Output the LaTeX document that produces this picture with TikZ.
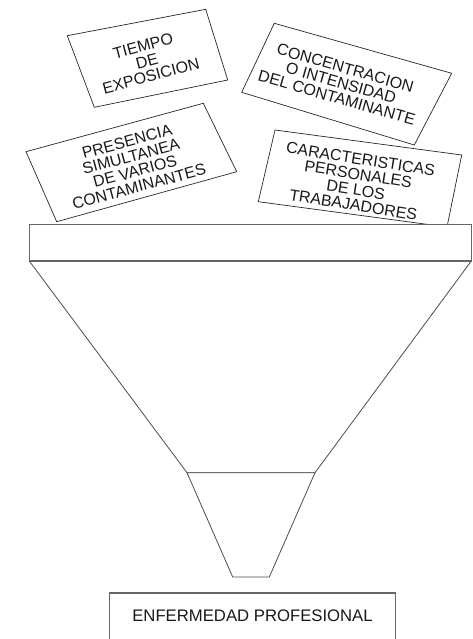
\documentclass[tikz,border=0pt]{standalone}
\usepackage{fontspec}
\setmainfont{Liberation Sans}
\begin{document}
\begin{tikzpicture}[x=1pt,y=-1pt,
  card/.style={draw=black!85,line width=0.7pt,fill=white,line join=miter},
  cardtext/.style={align=center,inner sep=0pt,text=black!90,font=\fontsize{16}{15.5}\selectfont},
  funnel/.style={draw=black!70,line width=0.8pt,fill=white},
  toprim/.style={draw=black!60,line width=1.2pt,fill=white}]
\useasboundingbox (0,0) rectangle (472,639);
\clip (0,0) rectangle (472,639);
% cards
\draw[card] (67.3,35.7) -- (205.7,9.3) -- (227.7,80) -- (94.3,107.3) -- cycle;
\node[cardtext,rotate=15] (t1) at (147,61) {TIEMPO\\DE\\EXPOSICION};
\draw[card] (274.3,23.3) -- (451.7,73.3) -- (414.3,145) -- (241.7,92.3) -- cycle;
\node[cardtext,rotate=-16] (t2) at (341,83) {CONCENTRACION\\O INTENSIDAD\\DEL CONTAMINANTE};
\draw[card] (26,151.7) -- (203.3,103.3) -- (236.7,171.7) -- (56.7,221.7) -- cycle;
\node[cardtext,rotate=15] (t3) at (133,164) {PRESENCIA\\SIMULTANEA\\DE VARIOS\\CONTAMINANTES};
\draw[card] (275,130) -- (461.7,155) -- (447,227) -- (258.3,201.7) -- cycle;
\node[cardtext,rotate=-9] (t4) at (357,182) {CARACTERISTICAS\\PERSONALES\\DE LOS\\TRABAJADORES};
% funnel
\draw[funnel] (29.3,261) -- (187,472.7) -- (315,472.7) -- (471.3,261) -- cycle;
\draw[funnel] (187,472.7) -- (232.7,577) -- (269.3,577) -- (315,472.7) -- cycle;
\draw[toprim] (29.3,224.7) rectangle (471.3,261);
% result
\draw[draw=black!60,line width=1.1pt] (109.7,700) -- (109.7,593) -- (395.3,593) -- (395.3,700);
\node[cardtext,font=\fontsize{16.7}{16}\selectfont] (res) at (252.5,616) {ENFERMEDAD PROFESIONAL};
\end{tikzpicture}
\end{document}
